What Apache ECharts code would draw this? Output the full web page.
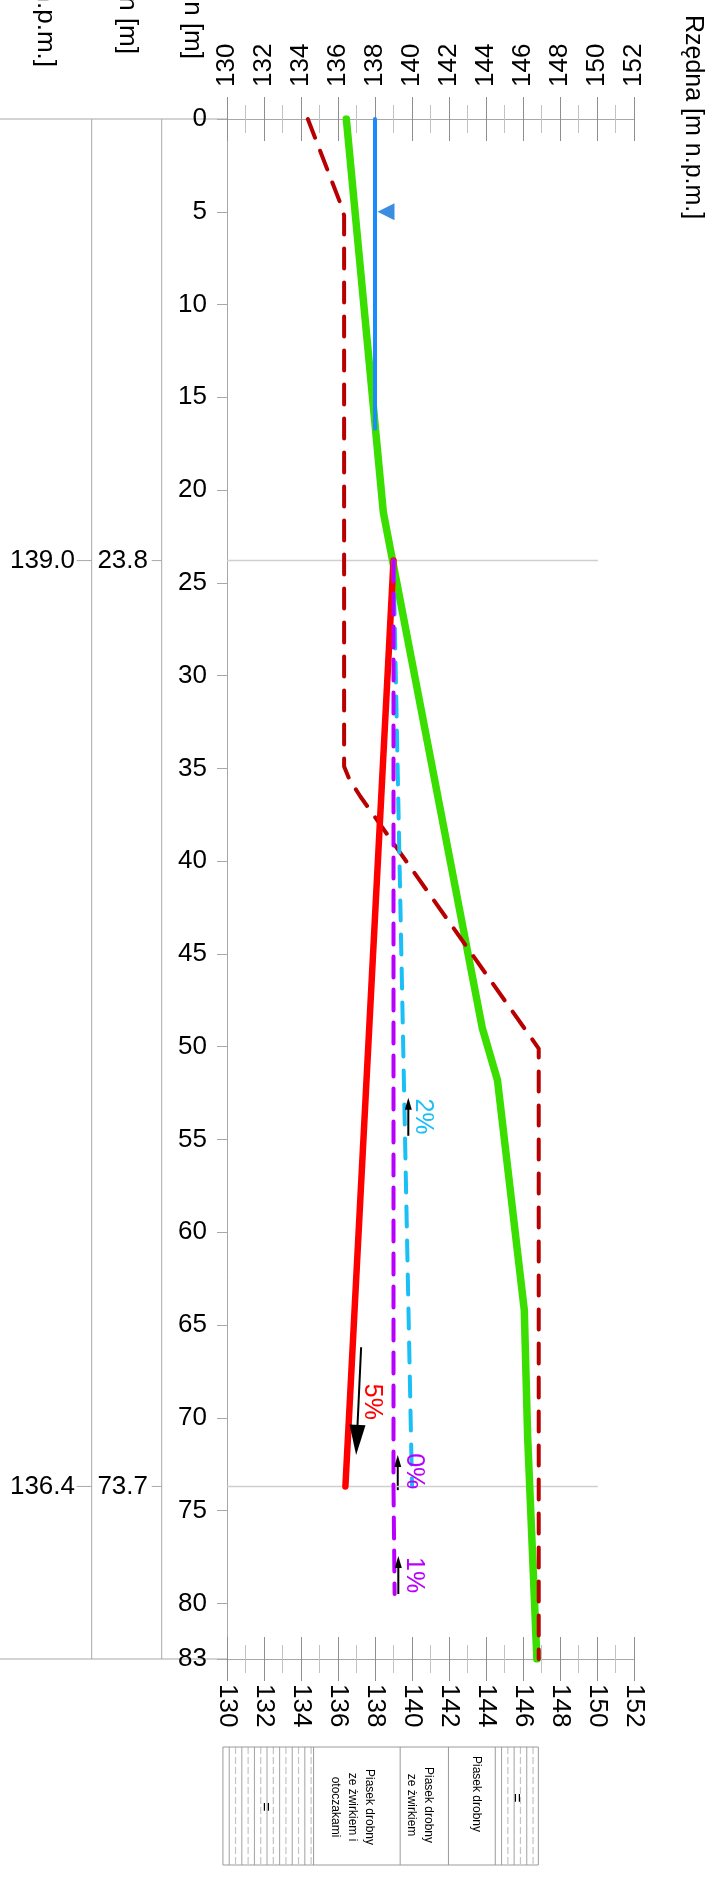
<!DOCTYPE html>
<html><head><meta charset="utf-8">
<script src="https://cdn.jsdelivr.net/npm/echarts@6/dist/echarts.min.js"></script>
<style>html,body{margin:0;padding:0;background:#fff;}#c{width:717px;height:1883px;}</style>
</head><body><div id="c"></div>
<script>
const FONT = '"Liberation Sans", Arial, Helvetica, sans-serif';
const AX = '#a8a8a8';

// ---- data: [distance m, elevation m n.p.m.] ----
const terrainGreen = [[0,136.45],[21.2,138.45],[49.0,143.8],[51.8,144.62],[64.2,146.07],[71.0,146.25],[83.0,146.75]];
const terrainRedDashed = [[0,134.37],[4.6,136.15],[5.2,136.33],[34.9,136.33],[35.6,136.62],[36.5,137.2],[50.1,146.85],[83.0,146.85]];
const waterTable = [[0,138.0],[16.7,138.0]];
const waterMarker = [[5.0,138.0]];
const slope5 = [[23.8,139.0],[73.7,136.4]];
const slope2 = [[23.8,139.0],[73.7,140.0]];
const slope0 = [[23.8,139.0],[73.7,139.0],[79.5,139.06]];
const breakDist = [23.8, 73.7];
const breakElevText = ['139.0','136.4'];
const breakDistText = ['23.8','73.7'];
const breakLineEnd = 150.05;
const slopeTexts = ['2%','5%','0%','1%'];
const slopeTextDist = [53.76, 69.14, 72.88, 78.48];
const slopeTextElev = [140.59, 137.82, 140.11, 140.11];
const slopeColors = ['#19bff5','#ff0000','#b900ff','#b900ff'];
const arrowFrom = [[54.8,139.8],[66.2,137.25],[73.9,139.23],[79.5,139.26]];
const arrowTo = [[52.75,139.8],[72.0,136.98],[72.0,139.23],[77.45,139.26]];
const arrowBig = [false,true,false,false];
const soilBounds = [129.78, 134.68, 139.36, 141.97, 144.5, 146.83];
const soilNames = ['', 'Piasek drobny\nze żwirkiem i\notoczakami', 'Piasek drobny\nze żwirkiem', 'Piasek drobny', ''];
const soilTextElev = [132.05, 136.76, 140.43, 143.5, 145.62];
const soilHatched = [true,false,false,false,true];
const headers = ['Rzędna załamań [m n.p.m.]','Odległość – plan [m]','Długość pochylen [m]'];
const axisName = 'Rzędna [m n.p.m.]';

const chart = echarts.init(document.getElementById('c'), null, {renderer:'canvas'});
const sw = a => a.map(p => [p[1], p[0]]);
const FS = 26;

function xAx(pos, inside, labels, margin){
  return {type:'value', position:pos, min:130, max:152, interval:2,
    axisLine:{show:!inside, onZero:false, lineStyle:{color:AX, width:1}},
    axisTick:{show:true, inside:inside, length:22, lineStyle:{color:'#8e8e8e', width:1}},
    minorTick:{show:true, splitNumber:2, length:14, lineStyle:{color:'#c2c2c2', width:1}},
    axisLabel:{show:labels, rotate:-90, margin:margin, fontSize:FS, color:'#000', fontFamily:FONT},
    splitLine:{show:false}, minorSplitLine:{show:false}};
}
function dashed(color, dash){ return {color, width:4, type:dash, cap:'round', join:'round'}; }

const option = {
  animation:false,
  backgroundColor:'#fff',
  textStyle:{fontFamily:FONT},
  grid:{left:227, right:83, top:119, bottom:224, containLabel:false, outerBoundsMode:'none'},
  xAxis:[xAx('top',false,true,32), xAx('top',true,false,0), xAx('bottom',false,true,25), xAx('bottom',true,false,0)],
  yAxis:{type:'value', inverse:true, min:0, max:83, interval:5,
    axisLine:{show:true, onZero:false, lineStyle:{color:AX}},
    axisTick:{show:true, length:10, lineStyle:{color:AX}},
    axisLabel:{fontSize:FS, color:'#000', margin:20, fontFamily:FONT, showMinLabel:true, showMaxLabel:true},
    splitLine:{show:false}},
  series:[
    {type:'line', name:'teren', data:sw(terrainGreen), symbol:'none', z:3,
     lineStyle:{color:'#3ade00', width:7.5, cap:'round', join:'round'}},
    ...breakDist.map(d => ({type:'line', data:[[130,d],[breakLineEnd,d]], symbol:'none', z:1, silent:true,
     lineStyle:{color:'#cfcfcf', width:1.5}})),
    {type:'line', name:'woda', data:sw(waterTable), symbol:'none', z:4,
     lineStyle:{color:'#1a8aff', width:4, cap:'round'}},
    {type:'scatter', data:sw(waterMarker), symbol:'triangle', symbolSize:17, symbolRotate:90, symbolOffset:[11,0], z:5,
     itemStyle:{color:'#0a70da'}},
    {type:'line', name:'teren2', data:sw(terrainRedDashed), symbol:'none', z:5,
     lineStyle:dashed('#b80000',[20,14])},
    {type:'line', name:'5%', data:sw(slope5), symbol:'none', z:6,
     lineStyle:{color:'#ff0000', width:6.5, cap:'round'}},
    {type:'line', name:'2%', data:sw(slope2), symbol:'none', z:6,
     lineStyle:dashed('#19bff5',[20,14])},
    {type:'line', name:'0%', data:sw(slope0), symbol:'none', z:7,
     lineStyle:dashed('#b900ff',[21,12])}
  ]
};
chart.setOption(option);

function P(d, e){ return chart.convertToPixel({seriesIndex:0}, [e, d]); }
const g = [];
function L(x1,y1,x2,y2,stroke,w,dash){ g.push({type:'line', silent:true, shape:{x1,y1,x2,y2}, style:{stroke, lineWidth:w||1, lineDash:dash||null}}); }
function T(x,y,text,o){ g.push({type:'text', silent:true, x, y, rotation:o.rot||0, z:20,
  style:Object.assign({text, fontFamily:FONT, fill:o.fill||'#000', fontSize:o.size||FS, align:o.align||'center', verticalAlign:'middle'}, o.lh?{lineHeight:o.lh}:{})}); }

const [xl, yt] = P(0, 130);
const [xr, yb] = P(83, 152);
// left extensions of top / bottom lines
L(0, yt, xl, yt, AX, 1);
L(0, yb, xl, yb, AX, 1);
// column lines
const colX = [91.7, 161.7];
colX.forEach(x => L(x, yt, x, yb, AX, 1));
// break rows
breakDist.forEach((d,i) => {
  const y = P(d,130)[1];
  L(76.7, y, 91.7, y, AX, 1);
  L(151.7, y, 161.7, y, AX, 1);
  T(75, y, breakElevText[i], {align:'right'});
  T(148, y, breakDistText[i], {align:'right'});
});
// headers (cut by top edge)
T(45, 67, headers[0], {rot:-Math.PI/2, align:'right', size:FS});
T(127, 54, headers[1], {rot:-Math.PI/2, align:'right', size:FS});
T(192, 59, headers[2], {rot:-Math.PI/2, align:'right', size:FS});
T(693, 15, axisName, {rot:-Math.PI/2, align:'left', size:25});

// slope notes + arrows
slopeTexts.forEach((t,i) => {
  const [x,y] = P(slopeTextDist[i], slopeTextElev[i]);
  T(x, y, t, {rot:-Math.PI/2, fill:slopeColors[i], size:25});
  const a = P(arrowFrom[i][0], arrowFrom[i][1]);
  const b = P(arrowTo[i][0], arrowTo[i][1]);
  const dx = b[0]-a[0], dy = b[1]-a[1], len = Math.hypot(dx,dy);
  const ux = dx/len, uy = dy/len, px = -uy, py = ux;
  const hl = arrowBig[i] ? 30 : 12, hw = arrowBig[i] ? 16 : 7;
  const bx = b[0]-ux*hl, by = b[1]-uy*hl;
  L(a[0], a[1], bx+ux*2, by+uy*2, '#000', 2);
  g.push({type:'polygon', silent:true, z:20, shape:{points:[[b[0],b[1]],[bx+px*hw/2,by+py*hw/2],[bx-px*hw/2,by-py*hw/2]]}, style:{fill:'#000'}});
});

// soil profile box
const boxTop = 1747, boxBot = 1865;
const sx = soilBounds.map(e => P(83, e)[0]);
for (let i=0;i<soilNames.length;i++){
  const x0 = sx[i], x1 = sx[i+1];
  if (soilHatched[i]){
    let k = 0;
    for (let x = x0+6.3; x < x1-2; x += 6.3, k++){
      if (k%2===0) L(x, boxTop, x, boxBot, '#8a8a8a', 0.8);
      else L(x, boxTop, x, boxBot, '#c4c4c4', 1.2, [7,3]);
    }
    const cx = P(83, soilTextElev[i])[0];
    T(cx, i===0?1807:1798, '=', {rot:-Math.PI/2, size:16});
  } else {
    const cx = P(83, soilTextElev[i])[0];
    T(cx, [0,1807,1805,1794][i], soilNames[i], {rot:-Math.PI/2, size:12, lh:17});
  }
  if (i>0) L(x0, boxTop, x0, boxBot, '#9a9a9a', 1);
}
g.push({type:'rect', silent:true, shape:{x:sx[0], y:boxTop, width:sx[sx.length-1]-sx[0], height:boxBot-boxTop}, style:{fill:null, stroke:'#9a9a9a', lineWidth:1}});

chart.setOption({graphic:g});
</script></body></html>
